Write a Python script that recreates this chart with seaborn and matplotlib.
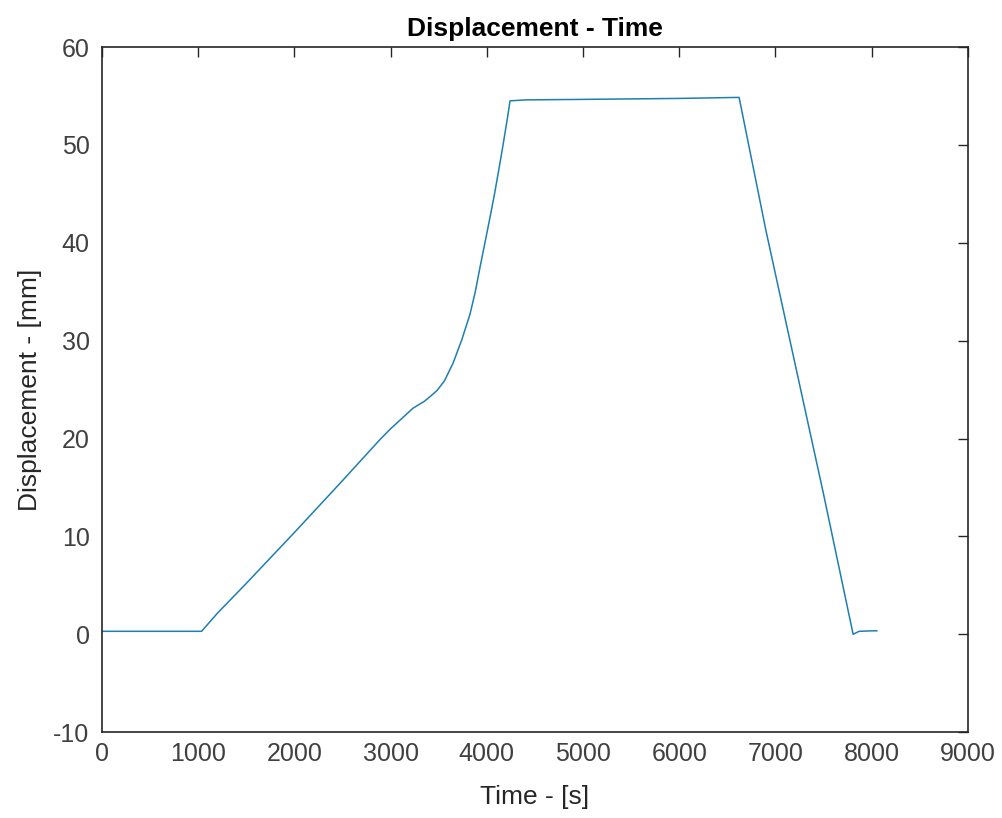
import numpy as np
import pandas as pd
import seaborn as sns
import matplotlib
matplotlib.use("Agg")
import matplotlib.pyplot as plt

# Displacement record of the test run
time_s = [0, 500, 1035, 1195, 1500, 2000, 2500, 2890, 3000, 3100,
          3233, 3350, 3400, 3482, 3560, 3649, 3740, 3825, 3880, 3929,
          3980, 4033, 4080, 4116, 4160, 4190, 4220, 4241, 4400, 5000,
          5500, 6000, 6300, 6600, 6622, 6902, 7173, 7500, 7807, 7870,
          8000, 8056]
disp_mm = [0.3, 0.3, 0.3, 2.1, 5.2, 10.4, 15.7, 19.9, 21.0, 21.9,
           23.1, 23.8, 24.2, 24.9, 25.9, 27.7, 30.1, 32.7, 35.0, 37.5,
           40.0, 42.6, 45.0, 47.0, 49.5, 51.3, 53.1, 54.5, 54.6, 54.65,
           54.7, 54.75, 54.8, 54.85, 54.85, 41.2, 29.0, 14.3, 0.0, 0.3,
           0.35, 0.35]

x_ticks = list(range(0, 9001, 1000))
y_ticks = list(range(-10, 61, 10))

df = pd.DataFrame({"Time": time_s, "Displacement": disp_mm})

sns.set_theme(style="white")
plt.rcParams["font.family"] = ["Liberation Sans", "DejaVu Sans"]
plt.rcParams["axes.unicode_minus"] = False

fig = plt.figure(figsize=(10.03, 8.18), dpi=100)
ax = fig.add_axes([0.1017, 0.105, 0.8633, 0.8375])

sns.lineplot(data=df, x="Time", y="Displacement", ax=ax, color="#1f7eb0",
             linewidth=1.1, sort=False, estimator=None)

ax.set_xlim(0, 9000)
ax.set_ylim(-10, 60)
ax.set_xticks(x_ticks)
ax.set_yticks(y_ticks)

edge = "#262626"
for s in ax.spines.values():
    s.set_visible(True)
    s.set_color(edge)
    s.set_linewidth(1.2)

ax.tick_params(direction="in", length=7, width=1.0, color=edge,
               top=True, right=True, labelsize=18, labelcolor="#404040")
ax.tick_params(axis="x", pad=7)
ax.tick_params(axis="y", pad=9)

ax.set_xlabel("Time - [s]", fontsize=19, color="#262626", labelpad=14)
ax.set_ylabel("Displacement - [mm]", fontsize=19, color="#262626", labelpad=8)
ax.set_title("Displacement - Time", fontsize=19, fontweight="bold",
             color="black", pad=8)

fig.savefig("out.png", dpi=100, facecolor="white")
